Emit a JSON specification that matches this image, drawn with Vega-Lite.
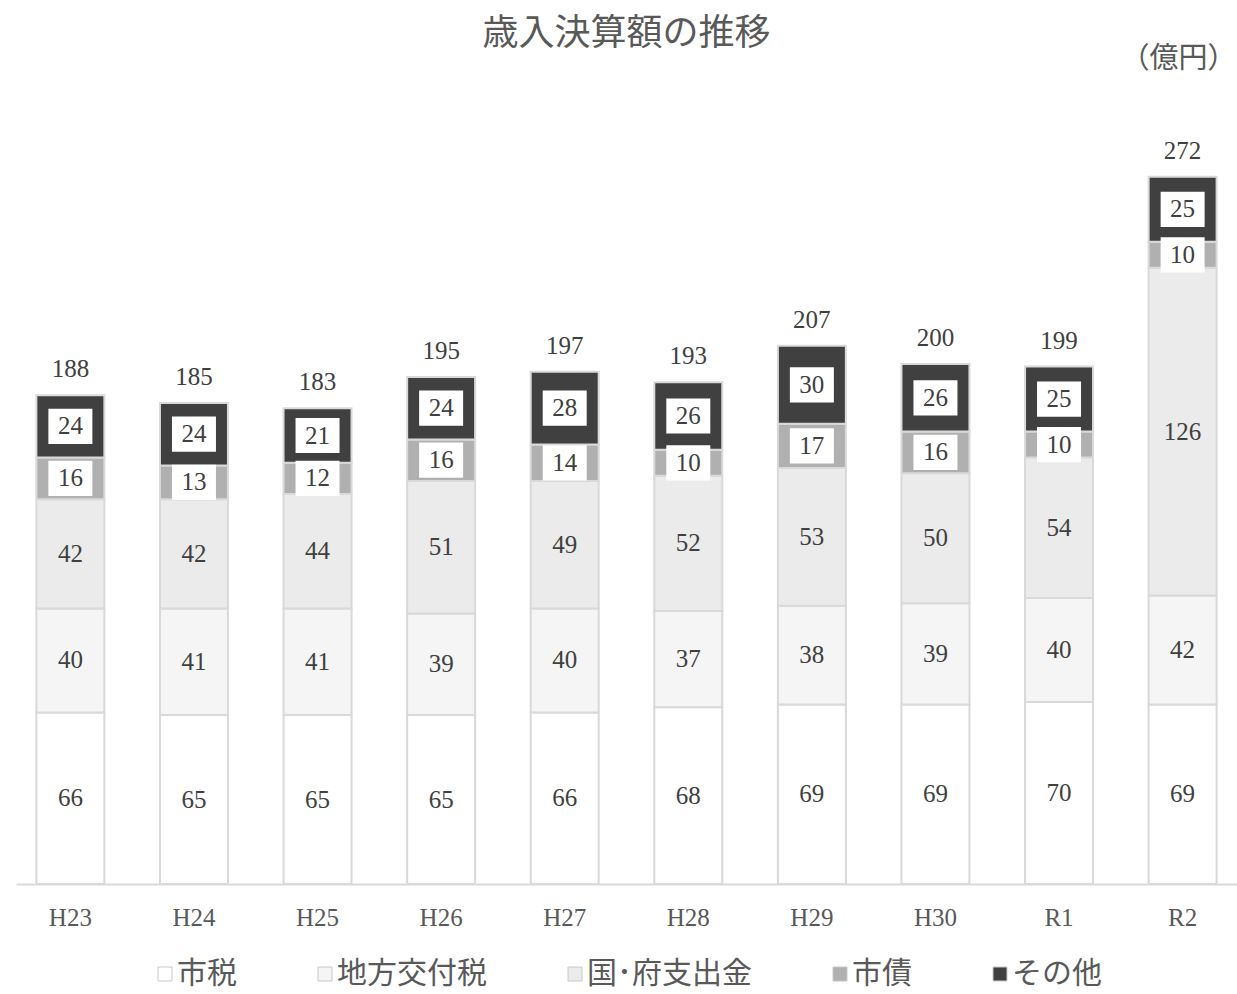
{
  "$schema": "https://vega.github.io/schema/vega-lite/v6.json",
  "width": 1221,
  "height": 780,
  "autosize": {"type": "none"},
  "padding": {"left": 16, "top": 104, "right": 0, "bottom": 110},
  "background": "white",
  "title": {"text": "歳入決算額の推移", "font": "Noto Sans CJK JP", "fontSize": 36, "fontWeight": "normal", "color": "#595959", "anchor": "middle", "baseline": "middle", "offset": 10, "dy": 36},
  "config": {"view": {"stroke": null}, "axis": {"grid": false}},
  "data": {"values": [
    {"year": "H23", "item": "市税", "value": 66}, {"year": "H23", "item": "地方交付税", "value": 40}, {"year": "H23", "item": "国･府支出金", "value": 42}, {"year": "H23", "item": "市債", "value": 16}, {"year": "H23", "item": "その他", "value": 24},
    {"year": "H24", "item": "市税", "value": 65}, {"year": "H24", "item": "地方交付税", "value": 41}, {"year": "H24", "item": "国･府支出金", "value": 42}, {"year": "H24", "item": "市債", "value": 13}, {"year": "H24", "item": "その他", "value": 24},
    {"year": "H25", "item": "市税", "value": 65}, {"year": "H25", "item": "地方交付税", "value": 41}, {"year": "H25", "item": "国･府支出金", "value": 44}, {"year": "H25", "item": "市債", "value": 12}, {"year": "H25", "item": "その他", "value": 21},
    {"year": "H26", "item": "市税", "value": 65}, {"year": "H26", "item": "地方交付税", "value": 39}, {"year": "H26", "item": "国･府支出金", "value": 51}, {"year": "H26", "item": "市債", "value": 16}, {"year": "H26", "item": "その他", "value": 24},
    {"year": "H27", "item": "市税", "value": 66}, {"year": "H27", "item": "地方交付税", "value": 40}, {"year": "H27", "item": "国･府支出金", "value": 49}, {"year": "H27", "item": "市債", "value": 14}, {"year": "H27", "item": "その他", "value": 28},
    {"year": "H28", "item": "市税", "value": 68}, {"year": "H28", "item": "地方交付税", "value": 37}, {"year": "H28", "item": "国･府支出金", "value": 52}, {"year": "H28", "item": "市債", "value": 10}, {"year": "H28", "item": "その他", "value": 26},
    {"year": "H29", "item": "市税", "value": 69}, {"year": "H29", "item": "地方交付税", "value": 38}, {"year": "H29", "item": "国･府支出金", "value": 53}, {"year": "H29", "item": "市債", "value": 17}, {"year": "H29", "item": "その他", "value": 30},
    {"year": "H30", "item": "市税", "value": 69}, {"year": "H30", "item": "地方交付税", "value": 39}, {"year": "H30", "item": "国･府支出金", "value": 50}, {"year": "H30", "item": "市債", "value": 16}, {"year": "H30", "item": "その他", "value": 26},
    {"year": "R1", "item": "市税", "value": 70}, {"year": "R1", "item": "地方交付税", "value": 40}, {"year": "R1", "item": "国･府支出金", "value": 54}, {"year": "R1", "item": "市債", "value": 10}, {"year": "R1", "item": "その他", "value": 25},
    {"year": "R2", "item": "市税", "value": 69}, {"year": "R2", "item": "地方交付税", "value": 42}, {"year": "R2", "item": "国･府支出金", "value": 126}, {"year": "R2", "item": "市債", "value": 10}, {"year": "R2", "item": "その他", "value": 25}
  ]},
  "transform": [
    {"calculate": "indexof(['市税','地方交付税','国･府支出金','市債','その他'], datum.item)", "as": "k"},
    {"stack": "value", "groupby": ["year"], "sort": [{"field": "k", "order": "ascending"}], "as": ["y0", "y1"]},
    {"calculate": "(datum.y0 + datum.y1) / 2", "as": "mid"}
  ],
  "encoding": {
    "x": {"field": "year", "type": "nominal", "sort": null, "scale": {"paddingInner": 0.45, "paddingOuter": 0.165},
      "axis": {"title": null, "domain": true, "domainColor": "#d9d9d9", "domainWidth": 2, "ticks": false, "labelFont": "Liberation Serif", "labelFontSize": 25, "labelColor": "#595959", "labelPadding": 33, "labelBaseline": "middle", "labelAngle": 0}}
  },
  "layer": [
    {
      "mark": {"type": "bar", "stroke": "#d9d9d9", "strokeWidth": 2},
      "encoding": {
        "y": {"field": "y0", "type": "quantitative", "title": "（億円）", "scale": {"domain": [0, 300]},
          "axis": {"orient": "right", "domain": false, "ticks": false, "labels": false, "grid": false, "titleAngle": 0, "titleAlign": "right", "titleBaseline": "middle", "titleX": -1, "titleY": -46, "titleFont": "Noto Sans CJK JP", "titleFontSize": 29, "titleFontWeight": "normal", "titleColor": "#595959"}},
        "y2": {"field": "y1"},
        "fill": {"field": "item", "type": "nominal",
          "scale": {"domain": ["市税", "地方交付税", "国･府支出金", "市債", "その他"], "range": ["#ffffff", "#f5f5f5", "#ebebeb", "#b0b0b0", "#404040"]},
          "legend": {"title": null, "orient": "none", "legendX": 134, "legendY": 855, "direction": "horizontal", "symbolType": "square", "symbolSize": 196, "symbolStrokeColor": "#c8c8c8", "symbolStrokeWidth": 1, "labelFont": "Noto Sans CJK JP", "labelFontSize": 30, "labelColor": "#595959", "labelOffset": -3, "columnPadding": 73, "padding": 0, "labelLimit": 400}}
      }
    },
    {
      "transform": [{"filter": "datum.k >= 3"}],
      "mark": {"type": "point", "shape": "M-1,-0.8H1V0.8H-1Z", "filled": true, "fill": "white", "size": 1936, "opacity": 1, "strokeWidth": 0},
      "encoding": {"y": {"field": "mid", "type": "quantitative", "title": "（億円）"}}
    },
    {
      "mark": {"type": "text", "font": "Liberation Serif", "fontSize": 25, "color": "#404040", "baseline": "middle"},
      "encoding": {"y": {"field": "mid", "type": "quantitative", "title": "（億円）"}, "text": {"field": "value", "type": "quantitative"}}
    },
    {
      "transform": [{"aggregate": [{"op": "sum", "field": "value", "as": "total"}], "groupby": ["year"]}],
      "mark": {"type": "text", "font": "Liberation Serif", "fontSize": 25, "color": "#404040", "baseline": "middle", "dy": -26},
      "encoding": {"y": {"field": "total", "type": "quantitative", "title": "（億円）"}, "text": {"field": "total", "type": "quantitative"}}
    }
  ]
}
